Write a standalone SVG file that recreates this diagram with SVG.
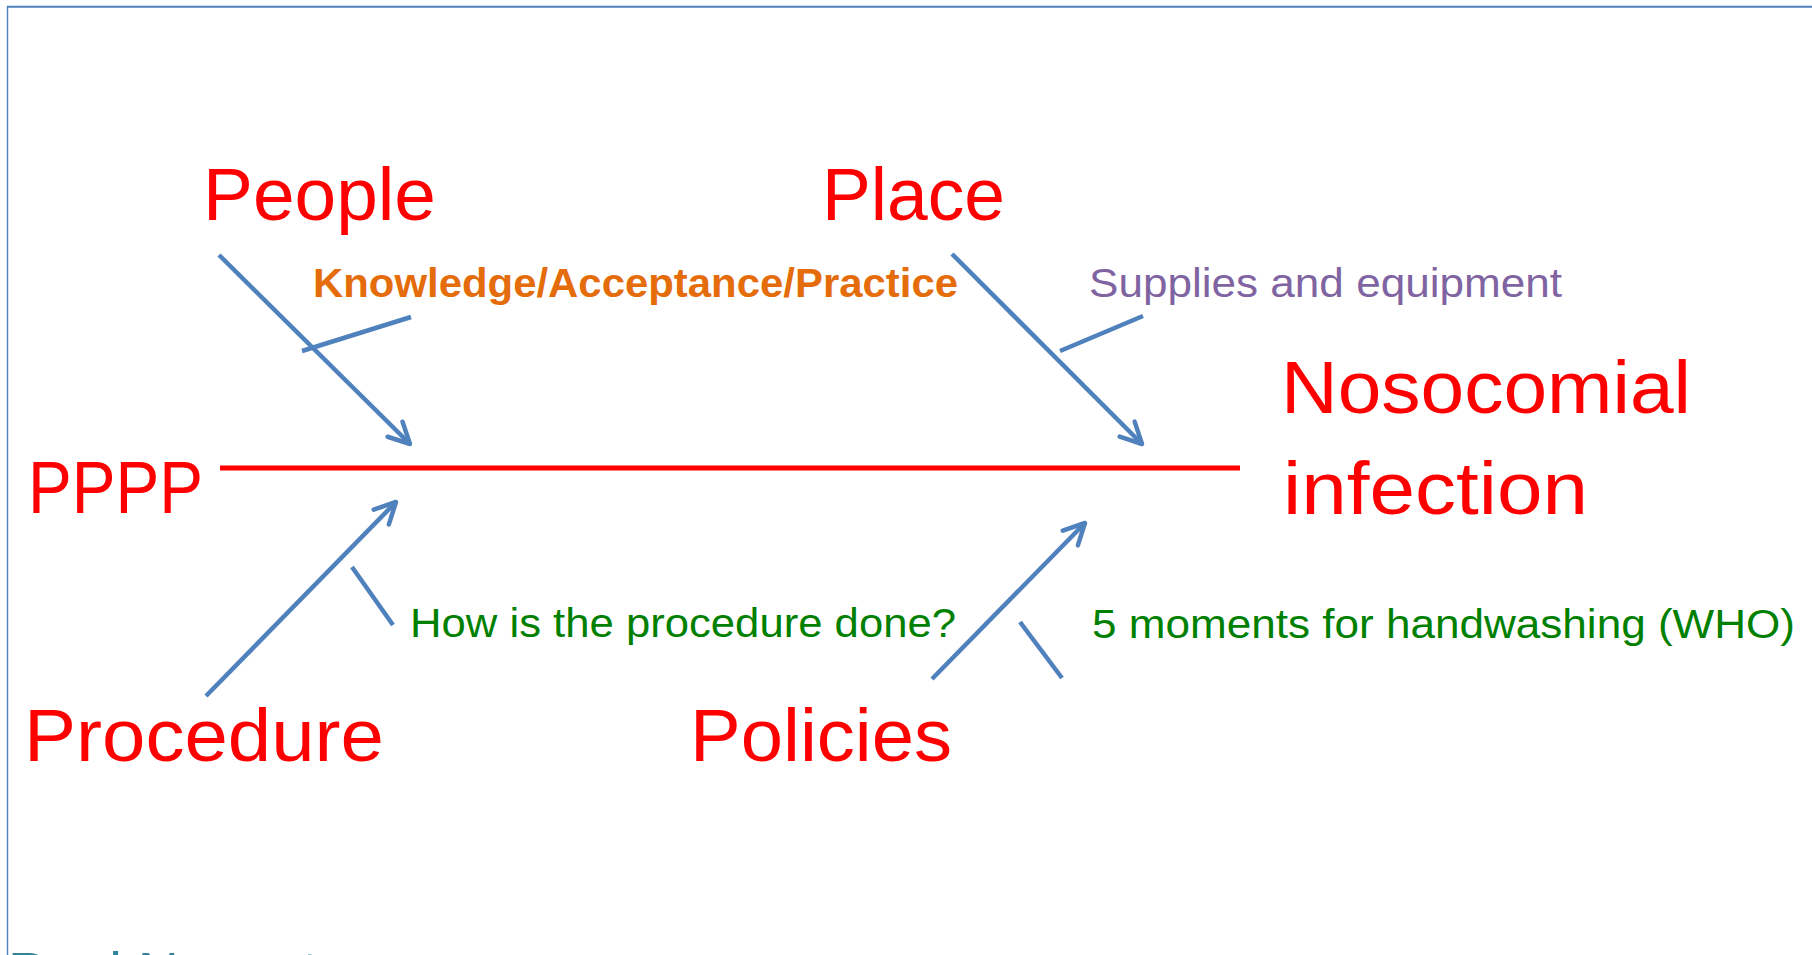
<svg xmlns="http://www.w3.org/2000/svg" width="1812" height="955" viewBox="0 0 1812 955">
<style>
.big{font-family:"Liberation Sans",Arial,sans-serif;font-size:75px;fill:#ff0000}
.sm{font-family:"Liberation Sans",Arial,sans-serif;font-size:41px}
.bone{stroke:#4f81bd;stroke-width:4.5;fill:none;stroke-linecap:butt}
.frame{stroke:#4f81bd;fill:none}
</style>
<defs>
<marker id="arr" markerUnits="userSpaceOnUse" orient="auto" refX="0" refY="0" markerWidth="40" markerHeight="40" viewBox="-30 -20 40 40" overflow="visible">
<path d="M-21,-10.6 L0,0 L-21,10.6" fill="none" stroke="#4f81bd" stroke-width="4.5" stroke-linecap="round" stroke-linejoin="round"/>
</marker>
</defs>
<rect width="1812" height="955" fill="#ffffff"/>
<g id="frame">
<line class="frame" x1="7" y1="6.7" x2="1812" y2="6.7" stroke-width="2"/>
<line class="frame" x1="7.5" y1="6" x2="7.5" y2="955" stroke-width="1.4"/>
</g>
<g id="connectors">
<line x1="220" y1="468" x2="1240" y2="468" stroke="#ff0000" stroke-width="5"/>
<line class="bone" x1="219" y1="255" x2="410" y2="444" marker-end="url(#arr)"/>
<line class="bone" x1="302" y1="351" x2="411" y2="317"/>
<line class="bone" x1="952" y1="254" x2="1142" y2="444" marker-end="url(#arr)"/>
<line class="bone" x1="1060" y1="351" x2="1143" y2="316"/>
<line class="bone" x1="206" y1="696" x2="396" y2="502" marker-end="url(#arr)"/>
<line class="bone" x1="352" y1="567" x2="393" y2="625"/>
<line class="bone" x1="932" y1="679" x2="1085" y2="523" marker-end="url(#arr)"/>
<line class="bone" x1="1020" y1="622" x2="1062" y2="678"/>
</g>
<g id="effect"><text class="big" x="1281" y="413" textLength="410" lengthAdjust="spacingAndGlyphs">Nosocomial</text><text class="big" x="1283" y="514" textLength="305" lengthAdjust="spacingAndGlyphs">infection</text></g>
<g id="pppp"><text class="big" x="28" y="513" textLength="175" lengthAdjust="spacingAndGlyphs">PPPP</text></g>
<g id="people"><text class="big" x="203" y="220" textLength="233" lengthAdjust="spacingAndGlyphs">People</text></g>
<g id="place"><text class="big" x="822" y="220" textLength="183" lengthAdjust="spacingAndGlyphs">Place</text></g>
<g id="procedure"><text class="big" x="24" y="761" textLength="360" lengthAdjust="spacingAndGlyphs">Procedure</text></g>
<g id="policies"><text class="big" x="690" y="761" textLength="262" lengthAdjust="spacingAndGlyphs">Policies</text></g>
<g id="knowledge"><text class="sm" x="313" y="297" font-weight="bold" fill="#e46c0a" textLength="645" lengthAdjust="spacingAndGlyphs">Knowledge/Acceptance/Practice</text></g>
<g id="supplies"><text class="sm" x="1089" y="297" fill="#8064a2" textLength="473" lengthAdjust="spacingAndGlyphs">Supplies and equipment</text></g>
<g id="how"><text class="sm" x="410" y="637" fill="#008000" textLength="546" lengthAdjust="spacingAndGlyphs">How is the procedure done?</text></g>
<g id="moments"><text class="sm" x="1092" y="638" fill="#008000" textLength="703" lengthAdjust="spacingAndGlyphs">5 moments for handwashing (WHO)</text></g>
<g id="footer"><text x="8" y="986" font-family="'Liberation Sans',Arial,sans-serif" font-size="48" fill="#31849b" textLength="310" lengthAdjust="spacingAndGlyphs">Paul Nawrot</text></g>
</svg>
